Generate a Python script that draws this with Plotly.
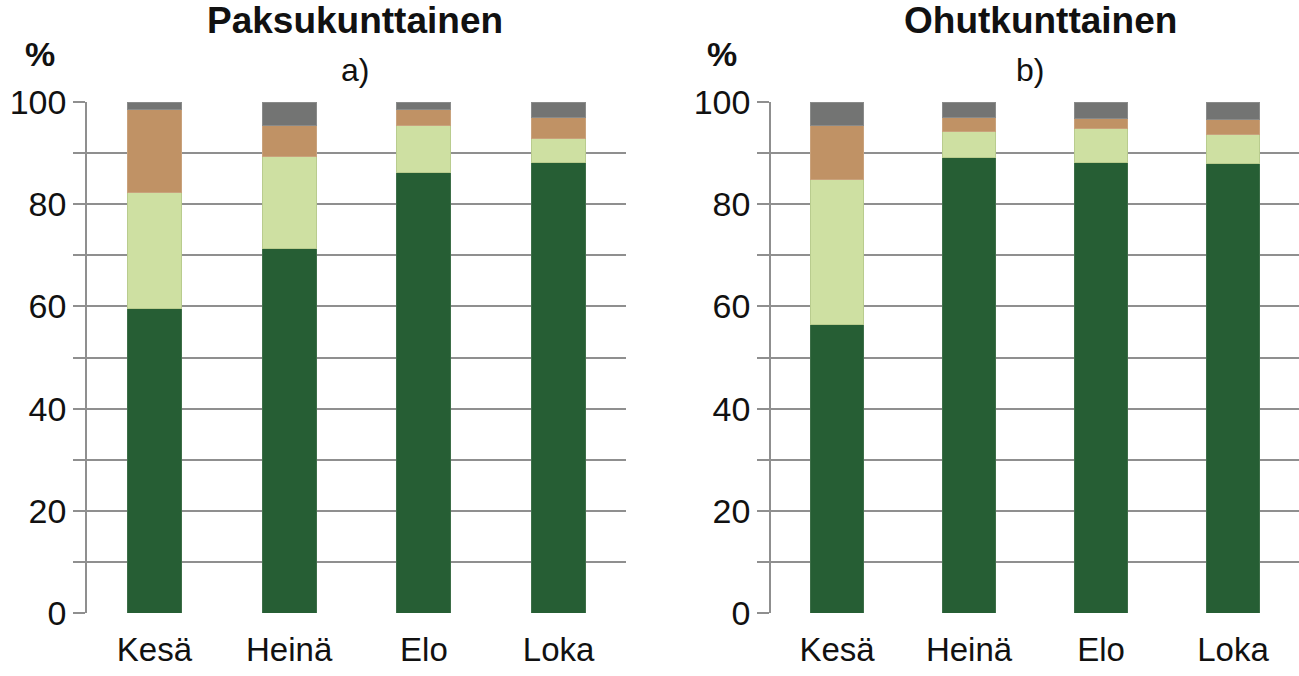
import plotly.graph_objects as go
from plotly.subplots import make_subplots

months = ["Kesä", "Heinä", "Elo", "Loka"]

# Paksukunttainen (a)
thick_dark = [59.6, 71.3, 86.2, 88.1]
thick_light = [22.6, 18.1, 9.2, 4.8]
thick_brown = [16.4, 6.1, 3.2, 4.1]
thick_gray = [1.4, 4.5, 1.4, 3.0]

# Ohutkunttainen (b)
thin_dark = [56.5, 89.2, 88.2, 87.9]
thin_light = [28.3, 5.0, 6.6, 5.8]
thin_brown = [10.7, 2.7, 1.9, 2.9]
thin_gray = [4.5, 3.1, 3.3, 3.4]

colors = ["#265E34", "#CEE0A2", "#C09265", "#737473"]
edge = ["#3d6e48", "#b9cc8e", "#c9a27c", "#8a8b8a"]

W, H = 1299, 676
fig = make_subplots(rows=1, cols=2)

for col, series in [(1, [thick_dark, thick_light, thick_brown, thick_gray]),
                    (2, [thin_dark, thin_light, thin_brown, thin_gray])]:
    for vals, c, e in zip(series, colors, edge):
        fig.add_trace(go.Bar(x=months, y=vals, marker=dict(color=c, line=dict(color=e, width=1)),
                             showlegend=False, hoverinfo="skip"), row=1, col=col)

font = "Liberation Sans, Arial, sans-serif"
grid = "#8f8f8f"
ydom = [1 - 613 / H, 1 - 102 / H]
tickvals = list(range(0, 101, 10))
ticktext = [str(v) if v % 20 == 0 else "" for v in tickvals]

fig.update_layout(
    width=W, height=H, margin=dict(l=0, r=0, t=0, b=0, autoexpand=False),
    barmode="stack", bargap=0.6,
    plot_bgcolor="white", paper_bgcolor="white",
    font=dict(family=font, size=33, color="#111111"),
    xaxis=dict(domain=[87 / W, 626 / W]),
    xaxis2=dict(domain=[771 / W, 1.0]),
    yaxis=dict(domain=ydom),
    yaxis2=dict(domain=ydom),
)
for ax in ["yaxis", "yaxis2"]:
    fig.layout[ax].update(range=[0, 100], tickvals=tickvals, ticktext=ticktext,
                          showgrid=True, gridcolor=grid, gridwidth=1.5,
                          showline=True, linecolor=grid, linewidth=1.5,
                          ticks="outside", ticklen=12, tickcolor=grid, tickwidth=1.5,
                          zeroline=False, tickfont=dict(size=34), automargin=False)
for ax in ["xaxis", "xaxis2"]:
    fig.layout[ax].update(showgrid=False, showline=False, ticks="", zeroline=False,
                          tickfont=dict(size=33), automargin=False, ticklabelstandoff=14)

annos = [
    dict(x=355 / W, y=1 - 21 / H, text="<b>Paksukunttainen</b>", size=37),
    dict(x=1040 / W, y=1 - 21 / H, text="<b>Ohutkunttainen</b>", size=37),
    dict(x=355 / W, y=1 - 70 / H, text="a)", size=32),
    dict(x=1030 / W, y=1 - 70 / H, text="b)", size=32),
    dict(x=40 / W, y=1 - 54 / H, text="<b>%</b>", size=34),
    dict(x=722 / W, y=1 - 54 / H, text="<b>%</b>", size=34),
]
for a in annos:
    fig.add_annotation(x=a["x"], y=a["y"], xref="paper", yref="paper", text=a["text"],
                       showarrow=False, xanchor="center", yanchor="middle",
                       font=dict(family=font, size=a["size"], color="#111111"))

fig.write_html("out.html")
